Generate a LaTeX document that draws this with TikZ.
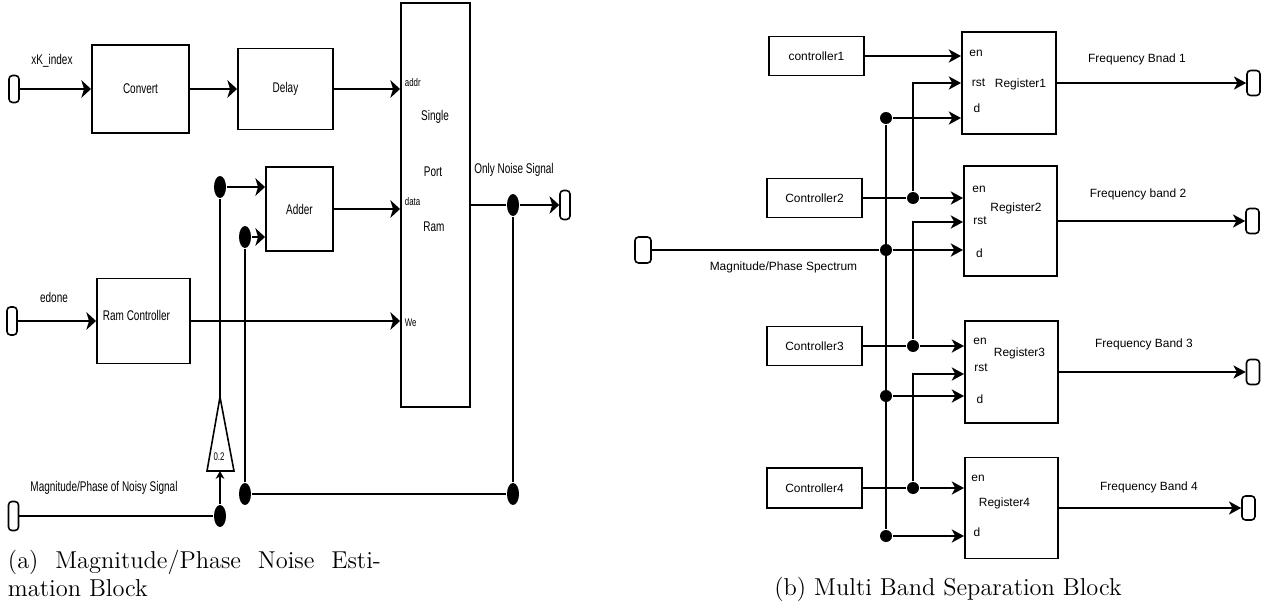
\documentclass[tikz,border=0pt]{standalone}
\usepackage{fontspec}
\newfontfamily\arialf{Liberation Sans}
\usetikzlibrary{arrows.meta,shapes.geometric}

\newcommand{\nrw}[1]{\scalebox{0.71}[1]{#1}}

\begin{document}
\begin{tikzpicture}[x=0.02cm,y=-0.02cm,line width=1.1pt,
  >={Stealth[length=7pt,width=7.5pt,inset=2pt]},
  la/.style={-{Stealth[length=5.5pt,width=10pt,inset=1.5pt]}},
  blk/.style={draw,inner sep=0pt},
  port/.style={draw,line width=0.9pt,rounded corners=2pt,inner sep=0pt,minimum width=0.2cm,minimum height=0.54cm},
  ldot/.style={ellipse,fill,inner sep=0pt,minimum width=0.24cm,minimum height=0.44cm},
  rdot/.style={circle,fill,inner sep=0pt,minimum size=0.24cm},
  lf/.style={font=\arialf\fontsize{8}{9}\selectfont,inner sep=0pt},
  sf/.style={font=\arialf\fontsize{6.3}{7}\selectfont,inner sep=0pt},
  rf/.style={font=\arialf\fontsize{6.8}{8}\selectfont,inner sep=0pt},
  captxt/.style={font=\fontsize{13.9}{16}\selectfont,inner sep=0pt}]
\useasboundingbox (0,0) rectangle (1271,608);

% (a) noise estimation
\node[port] (pxk) at (14,89) {};
\node[blk,lf,minimum width=1.94cm,minimum height=1.76cm] (conv) at (140.5,89) {\nrw{Convert}};
\node[blk,lf,minimum width=1.9cm,minimum height=1.62cm] (dly) at (285.5,89) {\nrw{Delay}};
\node[blk,minimum width=1.38cm,minimum height=8.08cm] (ram) at (435.5,205) {};
\node[blk,lf,minimum width=1.34cm,minimum height=1.68cm] (add) at (299.5,209) {\nrw{Adder}};
\node[blk,minimum width=1.86cm,minimum height=1.7cm] (rctl) at (143.5,321) {};
\node[lf] (rctltxt) at (136.5,315) {\nrw{Ram Controller}};
\node[port,minimum height=0.56cm] (pedone) at (12,321) {};
\node[port,minimum height=0.58cm] (pmag) at (13.5,516) {};
\node[port,minimum height=0.58cm] (pout) at (565,205) {};

\node[lf] (xklbl) at (52,61) {\nrw{xK\_index}};
\node[lf] (edlbl) at (54,297) {\nrw{edone}};
\node[lf] (maglbl) at (104,488) {\nrw{Magnitude/Phase of Noisy Signal}};
\node[lf] (outlbl) at (514,170) {\nrw{Only Noise Signal}};
\node[sf,anchor=west] (addr) at (404,83) {\nrw{addr}};
\node[sf,anchor=west] (data) at (404,202) {\nrw{data}};
\node[sf,anchor=west] (we) at (404,323) {\nrw{We}};
\node[lf] (single) at (435,117) {\nrw{Single}};
\node[lf] (portt) at (433,172) {\nrw{Port}};
\node[lf] (ramt) at (434,227) {\nrw{Ram}};

\node[ldot] (j1) at (220,187) {};
\node[ldot] (j2) at (245,237) {};
\node[ldot] (j3) at (220,516) {};
\node[ldot] (j4) at (245,494) {};
\node[ldot] (j5) at (513,494) {};
\node[ldot] (j6) at (513,205) {};

\coordinate (gtop) at (220,397);
\coordinate (gbase) at (220,471);
\draw[line width=0.9pt] (gtop) -- (207,471) -- (234,471) -- cycle;
\node[sf] (gval) at (219,457) {\nrw{0.2}};

\draw[la] (pxk) -- (conv);
\draw[la] (conv.east) -- (conv.east -| dly.west);
\draw[la] (dly.east) -- (dly.east -| ram.west);
\draw[la] (add.east) -- (add.east -| ram.west);
\draw[la] (pedone) -- (rctl);
\draw[la] (rctl.east) -- (rctl.east -| ram.west);
\draw[la] (j1) -- (j1 -| add.west);
\draw[la] (j2) -- (j2 -| add.west);
\draw[line width=0.7pt] (j1) -- (gtop);
\draw[line width=0.9pt,-{Stealth[length=4.5pt,width=5pt]}] (j3) -- (gbase);
\draw (pmag) -- (j3);
\draw[line width=0.7pt] (j2) -- (j4);
\draw (j4) -- (j5);
\draw[line width=0.7pt] (j5) -- (j6);
\draw (ram.east) -- (j6);
\draw[la] (j6) -- (pout);

\node[captxt,anchor=north west,text width=7.46cm,align=justify] (capa) at (7,549)
  {(a) Magnitude/Phase Noise Esti-\linebreak mation Block};

% (b) band separation
\node[blk,rf,minimum width=1.9cm,minimum height=0.78cm] (ctl1) at (816.5,56) {controller1};
\node[blk,rf,minimum width=1.9cm,minimum height=0.78cm] (ctl2) at (814.5,198) {Controller2};
\node[blk,rf,minimum width=1.9cm,minimum height=0.78cm] (ctl3) at (814.5,346) {Controller3};
\node[blk,rf,minimum width=1.9cm,minimum height=0.8cm] (ctl4) at (814.5,488) {Controller4};
\node[blk,minimum width=1.88cm,minimum height=2.04cm] (reg1) at (1009,83) {};
\node[blk,minimum width=1.86cm,minimum height=2.2cm] (reg2) at (1010.5,221) {};
\node[blk,minimum width=1.86cm,minimum height=2.04cm] (reg3) at (1011.5,372) {};
\node[blk,minimum width=1.86cm,minimum height=2.02cm] (reg4) at (1011.5,508) {};
\node[port,minimum width=0.32cm,minimum height=0.52cm] (pspec) at (643,250) {};
\node[port,minimum width=0.26cm,minimum height=0.5cm] (o1) at (1253.5,83) {};
\node[port,minimum width=0.26cm,minimum height=0.5cm] (o2) at (1252.5,221) {};
\node[port,minimum width=0.26cm,minimum height=0.5cm] (o3) at (1253,372) {};
\node[port,minimum width=0.26cm,minimum height=0.48cm] (o4) at (1248.5,508) {};

\foreach \n/\x/\y/\t in {a1/976/53/en, b1/978.5/83/rst, c1/977/108/d, r1/1020.5/84/Register1,
    a2/979/189/en, b2/980/221/rst, c2/979.5/253/d, r2/1016/208/Register2,
    a3/980/341/en, b3/981/368/rst, c3/980/399/d, r3/1019.5/353/Register3,
    a4/978/478/en, c4/977/532/d, r4/1004.5/503/Register4}
  \node[rf] (pin\n) at (\x,\y) {\t};
\node[rf] (speclbl) at (783.5,267) {Magnitude/Phase Spectrum};
\node[rf] (f1) at (1137,59) {Frequency Bnad 1};
\node[rf] (f2) at (1138,194) {Frequency band 2};
\node[rf] (f3) at (1144,344) {Frequency Band 3};
\node[rf] (f4) at (1149,487) {Frequency Band 4};

\node[rdot] (b1) at (886,118) {};
\node[rdot] (b2) at (886,250) {};
\node[rdot] (b3) at (886,396) {};
\node[rdot] (b4) at (886,536) {};
\node[rdot] (e2) at (913,198) {};
\node[rdot] (e3) at (913,346) {};
\node[rdot] (e4) at (913,488) {};
\coordinate (k1) at (913,83);
\coordinate (k2) at (913,222);
\coordinate (k3) at (913,374);

\draw[->] (ctl1.east) -- (ctl1.east -| reg1.west);
\draw (ctl2.east) -- (e2);
\draw[->] (e2) -- (e2 -| reg2.west);
\draw[->] (e2) -- (k1) -- (k1 -| reg1.west);
\draw (b1) -- (b4);
\draw[->] (b1) -- (b1 -| reg1.west);
\draw (pspec) -- (b2);
\draw[->] (b2) -- (b2 -| reg2.west);
\draw[->] (e3) -- (k2) -- (k2 -| reg2.west);
\draw (ctl3.east) -- (e3);
\draw[->] (e3) -- (e3 -| reg3.west);
\draw[->] (b3) -- (b3 -| reg3.west);
\draw[->] (e4) -- (k3) -- (k3 -| reg3.west);
\draw (ctl4.east) -- (e4);
\draw[->] (e4) -- (e4 -| reg4.west);
\draw[->] (b4) -- (b4 -| reg4.west);
\draw[->] (reg1) -- (o1);
\draw[->] (reg2) -- (o2);
\draw[->] (reg3) -- (o3);
\draw[->] (reg4) -- (o4);

\node[captxt,anchor=base] (capb) at (948,595) {(b) Multi Band Separation Block};
\end{tikzpicture}
\end{document}
